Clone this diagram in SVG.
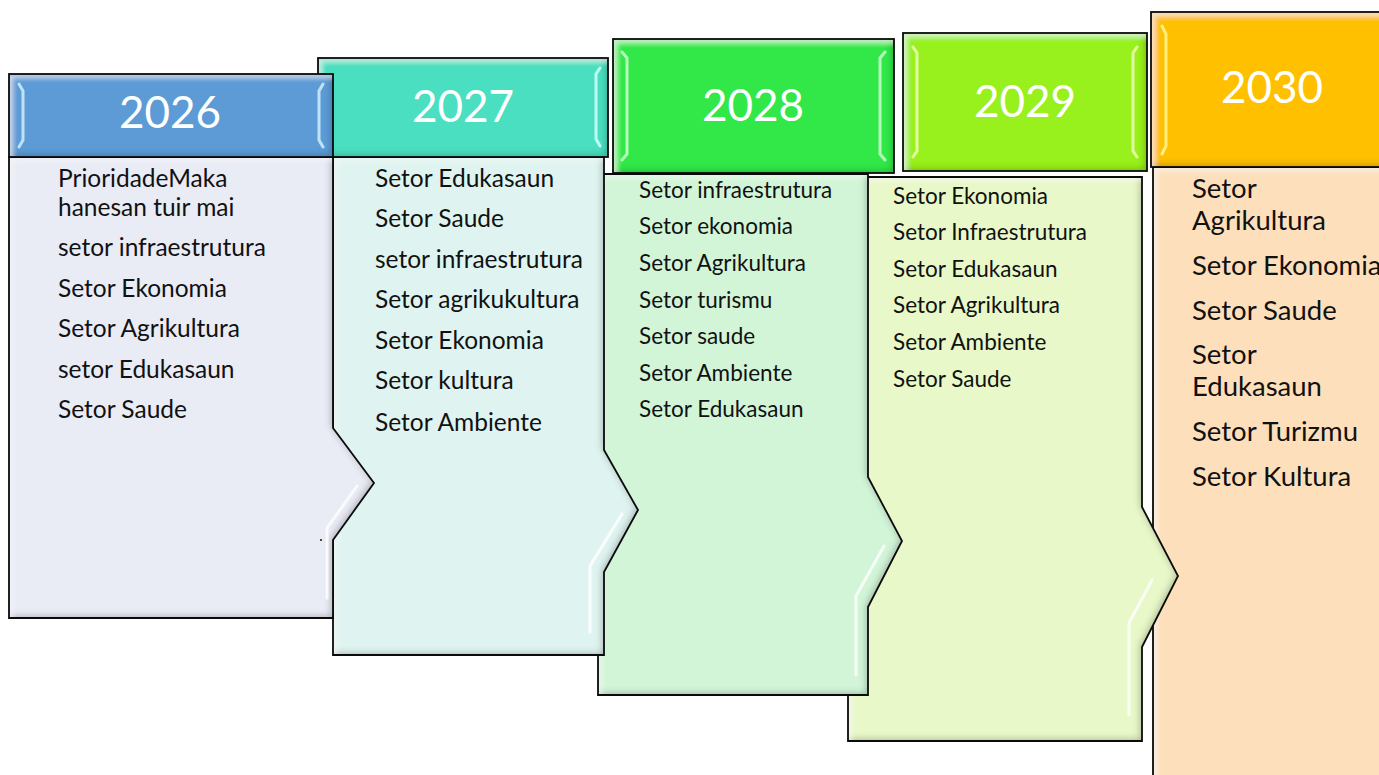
<svg xmlns="http://www.w3.org/2000/svg" width="1379" height="775" viewBox="0 0 1379 775">
<defs>
<style>
.fillb{filter:url(#bevel)}
.edge{fill:none;stroke:#0a0a0a;stroke-width:1.8;stroke-linejoin:miter}
.yr{font-family:Lato,"Liberation Sans",sans-serif;fill:#fff;text-anchor:middle}
.t{font-family:Lato,"Liberation Sans",sans-serif;fill:#111}
.hl{fill:none;stroke:#fff;stroke-opacity:0.8;stroke-width:3;stroke-linecap:round}
</style>
<filter id="bevel" x="-5%" y="-5%" width="110%" height="110%">
<feFlood flood-color="#000" flood-opacity="0.5" result="f"/>
<feComposite in="f" in2="SourceAlpha" operator="out" result="o"/>
<feOffset in="o" dx="-2" dy="-2" result="oo"/>
<feGaussianBlur in="oo" stdDeviation="3.5" result="b"/>
<feComposite in="b" in2="SourceAlpha" operator="in" result="sh"/>
<feFlood flood-color="#fff" flood-opacity="0.55" result="w"/>
<feComposite in="w" in2="SourceAlpha" operator="out" result="wo"/>
<feOffset in="wo" dx="4" dy="4" result="woo"/>
<feGaussianBlur in="woo" stdDeviation="2.5" result="wb"/>
<feComposite in="wb" in2="SourceAlpha" operator="in" result="hi"/>
<feMerge><feMergeNode in="SourceGraphic"/><feMergeNode in="sh"/><feMergeNode in="hi"/></feMerge>
</filter>
</defs>
<rect width="1379" height="775" fill="#fff"/>

<g id="node-2030">
<path class="fillb" d="M1153,167 H1400 V800 H1153 Z" fill="#FDE0BB"/>
<path class="edge" d="M1153,167 H1400 V800 H1153 Z"/>
<rect class="fillb" x="1151" y="12" width="250" height="155" fill="#FFC000"/>
<rect class="edge" x="1151" y="12" width="250" height="155"/>
<path class="hl" d="M1162,26 L1166,34 V146 L1162,154" style="stroke:#fffaa0"/>
<text class="yr" x="1272" y="103" font-size="44">2030</text>
<text class="t" font-size="27.5"><tspan x="1192" y="198">Setor</tspan><tspan x="1192" y="230">Agrikultura</tspan><tspan x="1192" y="275">Setor Ekonomia</tspan><tspan x="1192" y="320">Setor Saude</tspan><tspan x="1192" y="364">Setor</tspan><tspan x="1192" y="396">Edukasaun</tspan><tspan x="1192" y="441">Setor Turizmu</tspan><tspan x="1192" y="486">Setor Kultura</tspan></text>
</g>

<g id="node-2029">
<path class="fillb" d="M848,177 H1142 V507 L1178,576 L1142,647 V741 H848 Z" fill="#E8F8C8"/>
<path class="edge" d="M848,177 H1142 V507 L1178,576 L1142,647 V741 H848 Z"/>
<path class="hl" d="M1152,580 L1129,623 V715"/>
<rect class="fillb" x="903" y="33" width="244" height="138" fill="#98F01E"/>
<rect class="edge" x="903" y="33" width="244" height="138"/>
<path class="hl" d="M913,47 L917,53 V151 L913,157 M1137,47 L1133,53 V151 L1137,157" style="stroke:#f6ffc0"/>
<text class="yr" x="1025" y="117" font-size="44">2029</text>
<text class="t" font-size="22.5"><tspan x="893" y="204">Setor Ekonomia</tspan><tspan x="893" y="240">Setor Infraestrutura</tspan><tspan x="893" y="277">Setor Edukasaun</tspan><tspan x="893" y="313">Setor Agrikultura</tspan><tspan x="893" y="350">Setor Ambiente</tspan><tspan x="893" y="387">Setor Saude</tspan></text>
</g>

<g id="node-2028">
<path class="fillb" d="M598,174 H868 V477 L902,541 L868,607 V695 H598 Z" fill="#D2F5D8"/>
<path class="edge" d="M598,174 H868 V477 L902,541 L868,607 V695 H598 Z"/>
<path class="hl" d="M884,546 L856,596 V675"/>
<rect class="fillb" x="613" y="39" width="281" height="134" fill="#33E84A"/>
<rect class="edge" x="613" y="39" width="281" height="134"/>
<path class="hl" d="M622,52 L627,58 V154 L622,160 M885,52 L880,58 V154 L885,160" style="stroke:#d8ffd8"/>
<text class="yr" x="753" y="121" font-size="44">2028</text>
<text class="t" font-size="22.5"><tspan x="639" y="198">Setor infraestrutura</tspan><tspan x="639" y="234">Setor ekonomia</tspan><tspan x="639" y="271">Setor Agrikultura</tspan><tspan x="639" y="308">Setor turismu</tspan><tspan x="639" y="344">Setor saude</tspan><tspan x="639" y="381">Setor Ambiente</tspan><tspan x="639" y="417">Setor Edukasaun</tspan></text>
</g>

<g id="node-2027">
<path class="fillb" d="M333,157 H604 V450 L638,510 L604,572 V655 H333 Z" fill="#DFF4F0"/>
<path class="edge" d="M333,157 H604 V450 L638,510 L604,572 V655 H333 Z"/>
<path class="hl" d="M622,514 L590,566 V632"/>
<rect class="fillb" x="318" y="58" width="290" height="99" fill="#4ADFC0"/>
<rect class="edge" x="318" y="58" width="290" height="99"/>
<path class="hl" d="M600,68 L596,74 V139 L600,146" style="stroke:#e0ffff"/>
<text class="yr" x="463" y="122" font-size="44">2027</text>
<text class="t" font-size="24.5"><tspan x="375" y="187">Setor Edukasaun</tspan><tspan x="375" y="227">Setor Saude</tspan><tspan x="375" y="268">setor infraestrutura</tspan><tspan x="375" y="308">Setor agrikukultura</tspan><tspan x="375" y="349">Setor Ekonomia</tspan><tspan x="375" y="389">Setor kultura</tspan><tspan x="375" y="431">Setor Ambiente</tspan></text>
</g>

<g id="node-2026">
<path class="fillb" d="M9,157 H333 V428 L374,483 L333,540 V618 H9 Z" fill="#E9EBF5"/>
<path class="edge" d="M9,157 H333 V428 L374,483 L333,540 V618 H9 Z"/>
<path class="hl" d="M357,486 L327,528 V598"/>
<rect class="fillb" x="9" y="74" width="324" height="83" fill="#5B9BD5"/>
<rect class="edge" x="9" y="74" width="324" height="83"/>
<path class="hl" d="M19,84 L23,91 V140 L19,147 M323,84 L319,91 V140 L323,147" style="stroke:#d8f4ff"/>
<text class="yr" x="170" y="128" font-size="44">2026</text>
<text class="t" font-size="24.5"><tspan x="58" y="187">PrioridadeMaka</tspan><tspan x="58" y="216">hanesan tuir mai</tspan><tspan x="58" y="256">setor infraestrutura</tspan><tspan x="58" y="297">Setor Ekonomia</tspan><tspan x="58" y="337">Setor Agrikultura</tspan><tspan x="58" y="378">setor Edukasaun</tspan><tspan x="58" y="418">Setor Saude</tspan></text>
<circle cx="321" cy="540" r="1" fill="#111"/>
</g>

<g id="connectors"></g>
</svg>
